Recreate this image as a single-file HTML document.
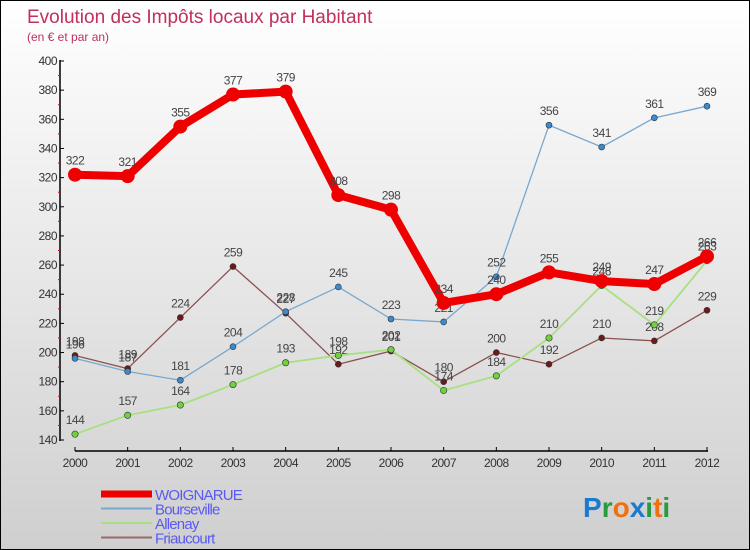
<!DOCTYPE html>
<html><head><meta charset="utf-8"><style>
html,body{margin:0;padding:0}
body{width:750px;height:550px;overflow:hidden;font-family:"Liberation Sans",sans-serif}
#wrap{position:relative;width:748px;height:548px;border:1px solid #000;background:linear-gradient(#fff,#cfcfcf)}
</style></head><body>
<div id="wrap">
<svg id="chart" width="748" height="548" style="position:absolute;left:0;top:0"></svg>
</div>
<script>
const years=[2000,2001,2002,2003,2004,2005,2006,2007,2008,2009,2010,2011,2012];
const woignarue=[322,321,355,377,379,308,298,234,240,255,249,247,266];
const bourseville=[196,187,181,204,228,245,223,221,252,356,341,361,369];
const allenay=[144,157,164,178,193,198,202,174,184,210,246,219,263];
const friaucourt=[198,189,224,259,227,192,201,180,200,192,210,208,229];
const yTicks=[140,160,180,200,220,240,260,280,300,320,340,360,380,400];
const NS="http://www.w3.org/2000/svg";
const svg=document.getElementById('chart');
function x(i){return 74+i*(632/(years.length-1));}
function y(v){return 439-(v-140)*(379/260);}
function mk(t,a,p){const e=document.createElementNS(NS,t);for(const k in a)e.setAttribute(k,a[k]);(p||svg).appendChild(e);return e;}
function txt(s,a){const e=mk('text',a);e.textContent=s;return e;}
let t=txt('Evolution des Impôts locaux par Habitant',{x:26,y:22,'font-size':19,fill:'#c0305a'});

t=txt('(en € et par an)',{x:26,y:40,'font-size':12,fill:'#c0305a'});

let ax=mk('line',{x1:59,y1:59,x2:59,y2:440,stroke:'#000','stroke-width':1.5});

ax=mk('line',{x1:74,y1:450,x2:707,y2:450,stroke:'#000','stroke-width':1.5});

yTicks.forEach(v=>{
 mk('line',{x1:59,y1:y(v),x2:63,y2:y(v),stroke:'#000'});
 if(v<400)mk('line',{x1:57,y1:y(v+10),x2:59,y2:y(v+10),stroke:'#e00'});
 const l=txt(v,{x:56,y:y(v)+4,'font-size':12,fill:'#333','text-anchor':'end','letter-spacing':'-0.5'});
 
});
years.forEach((yr,i)=>{
 mk('line',{x1:x(i),y1:446,x2:x(i),y2:450,stroke:'#000'});
 const l=txt(yr,{x:x(i),y:466,'font-size':12,fill:'#333','text-anchor':'middle','letter-spacing':'-0.5'});
 
});
function series(vals,color,dot,w,r,name){
 const g=mk('g',{});
 
 const p=mk('polyline',{points:vals.map((v,i)=>x(i)+','+y(v)).join(' '),fill:'none',stroke:color,'stroke-width':w,'stroke-linejoin':'round'},g);
 
 vals.forEach((v,i)=>{
  const c=mk('circle',{cx:x(i),cy:y(v),r:r,fill:dot,stroke:'#333','stroke-width':r>5?0:0.6},g);
  
  const l=txt(v,{x:x(i),y:y(v)-10,'font-size':12,fill:'#444','text-anchor':'middle','letter-spacing':'-0.5'});
  g.appendChild(l);
  
 });
}
series(friaucourt,'#8b5050','#6b1a1a',1.3,3,'friaucourt');
series(allenay,'#a8e080','#70d040',1.8,3.2,'allenay');
series(bourseville,'#78a8d0','#3a8ad0',1.3,3,'bourseville');
series(woignarue,'#ee0000','#ee0000',8,7,'woignarue');
const leg=[['WOIGNARUE','#ee0000',7],['Bourseville','#78a8d0',2],['Allenay','#a8e080',2],['Friaucourt','#9a6a6a',2]];
leg.forEach((d,i)=>{
 const g=mk('g',{});
 
 const yy=493+i*14.5;
 mk('line',{x1:100,y1:yy,x2:151,y2:yy,stroke:d[1],'stroke-width':d[2]},g);
 const l=txt(d[0],{x:154,y:yy+6,'font-size':15,fill:'#5a5af0','letter-spacing':'-0.8'});
 g.appendChild(l);
});
const lg=txt('',{x:582,y:516,'font-size':28,'font-weight':'bold'});

[['P','#1a7ad0'],['r','#2a9a40'],['o','#f07010'],['x','#1a7ad0'],['i','#2a9a40'],['t','#f07010'],['i','#2a9a40']].forEach(c=>{const s=mk('tspan',{fill:c[1]},lg);s.textContent=c[0];});
</script>
</body></html>
